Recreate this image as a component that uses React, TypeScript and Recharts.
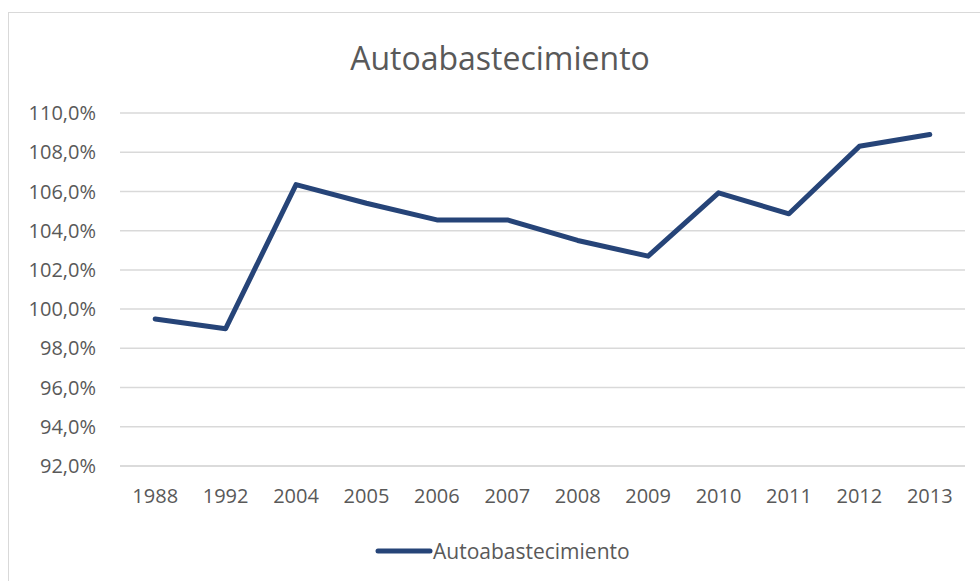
import { LineChart, Line, XAxis, YAxis, CartesianGrid } from "recharts";

const years = ["1988", "1992", "2004", "2005", "2006", "2007", "2008", "2009", "2010", "2011", "2012", "2013"];
const autoabastecimiento = [99.5, 99.0, 106.35, 105.4, 104.55, 104.55, 103.5, 102.7, 105.93, 104.86, 108.3, 108.9];
const yTicks = [92, 94, 96, 98, 100, 102, 104, 106, 108, 110];

const SERIES_NAME = "Autoabastecimiento";
const LINE_COLOR = "#264478";
const TEXT_COLOR = "#595959";
const FONT = "'Open Sans', 'Liberation Sans', sans-serif";

const data = years.map((y, i) => ({ year: y, value: autoabastecimiento[i] }));

const fmtPct = (v: number) => v.toFixed(1).replace(".", ",") + "%";

export default function App() {
    return (
        <div style={{ position: "absolute", left: 0, top: 0, width: 980, height: 581, background: "#fff", overflow: "hidden" }}>
            <div style={{ position: "absolute", left: 8, top: 12, width: 1000, height: 600, border: "1.5px solid #d9d9d9", boxSizing: "border-box" }} />
            <div style={{ position: "absolute", left: 0, top: 36, width: 1000, textAlign: "center", fontFamily: FONT, fontSize: 32, lineHeight: "44px", color: TEXT_COLOR }}>
                {SERIES_NAME}
            </div>
            <div style={{ position: "absolute", left: 0, top: 0 }}>
                <LineChart width={980} height={581} data={data} margin={{ top: 113, right: 15, bottom: 85, left: 10 }}>
                    <CartesianGrid stroke="#d9d9d9" strokeWidth={1.5} vertical={false} />
                    <XAxis
                        dataKey="year"
                        scale="band"
                        axisLine={{ stroke: "#d9d9d9", strokeWidth: 1.5 }}
                        tickLine={false}
                        tickMargin={17}
                        tick={{ fill: TEXT_COLOR, fontSize: 20, fontFamily: FONT }}
                        interval={0}
                    />
                    <YAxis
                        width={110}
                        domain={[92, 110]}
                        ticks={yTicks}
                        tickFormatter={fmtPct}
                        axisLine={false}
                        tickLine={false}
                        tickMargin={18}
                        tick={{ fill: TEXT_COLOR, fontSize: 20, fontFamily: FONT }}
                    />
                    <Line
                        dataKey="value"
                        name={SERIES_NAME}
                        stroke={LINE_COLOR}
                        strokeWidth={5}
                        strokeLinecap="round"
                        strokeLinejoin="round"
                        dot={false}
                        activeDot={false}
                        isAnimationActive={false}
                    />
                </LineChart>
            </div>
            <div style={{ position: "absolute", left: 375, top: 537, height: 28, display: "flex", alignItems: "center", fontFamily: FONT, fontSize: 21, color: TEXT_COLOR }}>
                <svg width={58} height={8} style={{ display: "block" }}>
                    <line x1={3} y1={4} x2={55} y2={4} stroke={LINE_COLOR} strokeWidth={5} strokeLinecap="round" />
                </svg>
                <span>{SERIES_NAME}</span>
            </div>
        </div>
    );
}
